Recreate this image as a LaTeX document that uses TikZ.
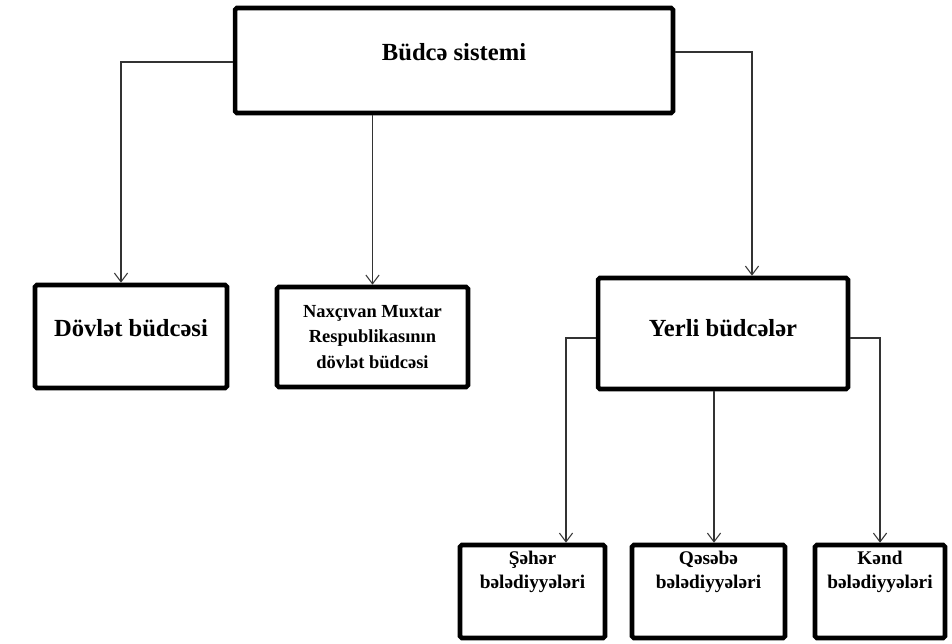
\documentclass[tikz,border=0pt]{standalone}
\usepackage{fontspec}
\setmainfont{Liberation Serif}
\usetikzlibrary{arrows.meta,positioning,calc}

\begin{document}
\begin{tikzpicture}[x=0.02cm,y=-0.02cm,
    box/.style={draw, line width=2.6pt, rounded corners=1pt, align=center, inner sep=0pt},
    big/.style={font=\bfseries\fontsize{14}{16}\selectfont},
    small/.style={font=\bfseries\fontsize{11}{13.6}\selectfont},
    conn/.style={draw=black!80, line width=0.6pt, -{Straight Barb[length=5pt,width=7.5pt]}}]
    \useasboundingbox (0,0) rectangle (952,644);

    % Yuxari blok
    \node[box, big, minimum width=8.76cm, minimum height=2.1cm, text depth=0.34cm] (sistem) at (454,60.5) {Büdcə sistemi};

    % Ikinci sira
    \node[box, big, minimum width=3.84cm, minimum height=2.06cm, text depth=0.34cm] (dovlet) at (131,336.5) {Dövlət büdcəsi};
    \node[box, font=\bfseries\fontsize{10.5}{14.5}\selectfont, minimum width=3.82cm, minimum height=2.0cm] (naxcivan) at (372.5,337) {Naxçıvan Muxtar\\Respublikasının\\dövlət büdcəsi};
    \node[box, big, minimum width=5.0cm, minimum height=2.22cm, text depth=0.22cm] (yerli) at (723,333.5) {Yerli büdcələr};

    % Beledyyeler
    \node[box, small, minimum width=2.9cm, minimum height=1.86cm, text depth=0.86cm] (seher) at (532.5,591.5) {Şəhər\\bələdiyyələri};
    \node[box, small, minimum width=3.06cm, minimum height=1.86cm, text depth=0.86cm] (qesebe) at (708.5,591.5) {Qəsəbə\\bələdiyyələri};
    \node[box, small, minimum width=2.6cm, minimum height=1.86cm, text depth=0.86cm] (kend) at (880,591.5) {Kənd\\bələdiyyələri};

    % Birlesdiriciler
    \coordinate (dtop) at ([xshift=-0.2cm]dovlet.north);
    \coordinate (ytop) at ([xshift=0.58cm]yerli.north);
    \coordinate (stop) at ([xshift=0.67cm]seher.north);
    \coordinate (qtop) at ([xshift=0.11cm]qesebe.north);
    \draw[conn] ([yshift=-0.03cm]sistem.west) -| (dtop);
    \draw[conn] (sistem.south -| naxcivan.north) -- (naxcivan.north);
    \draw[conn] ([yshift=0.17cm]sistem.east) -| (ytop);
    \draw[conn] ([yshift=-0.09cm]yerli.west) -| (stop);
    \draw[conn] (yerli.south -| qtop) -- (qtop);
    \draw[conn] ([yshift=-0.09cm]yerli.east) -| (kend.north);
\end{tikzpicture}
\end{document}
